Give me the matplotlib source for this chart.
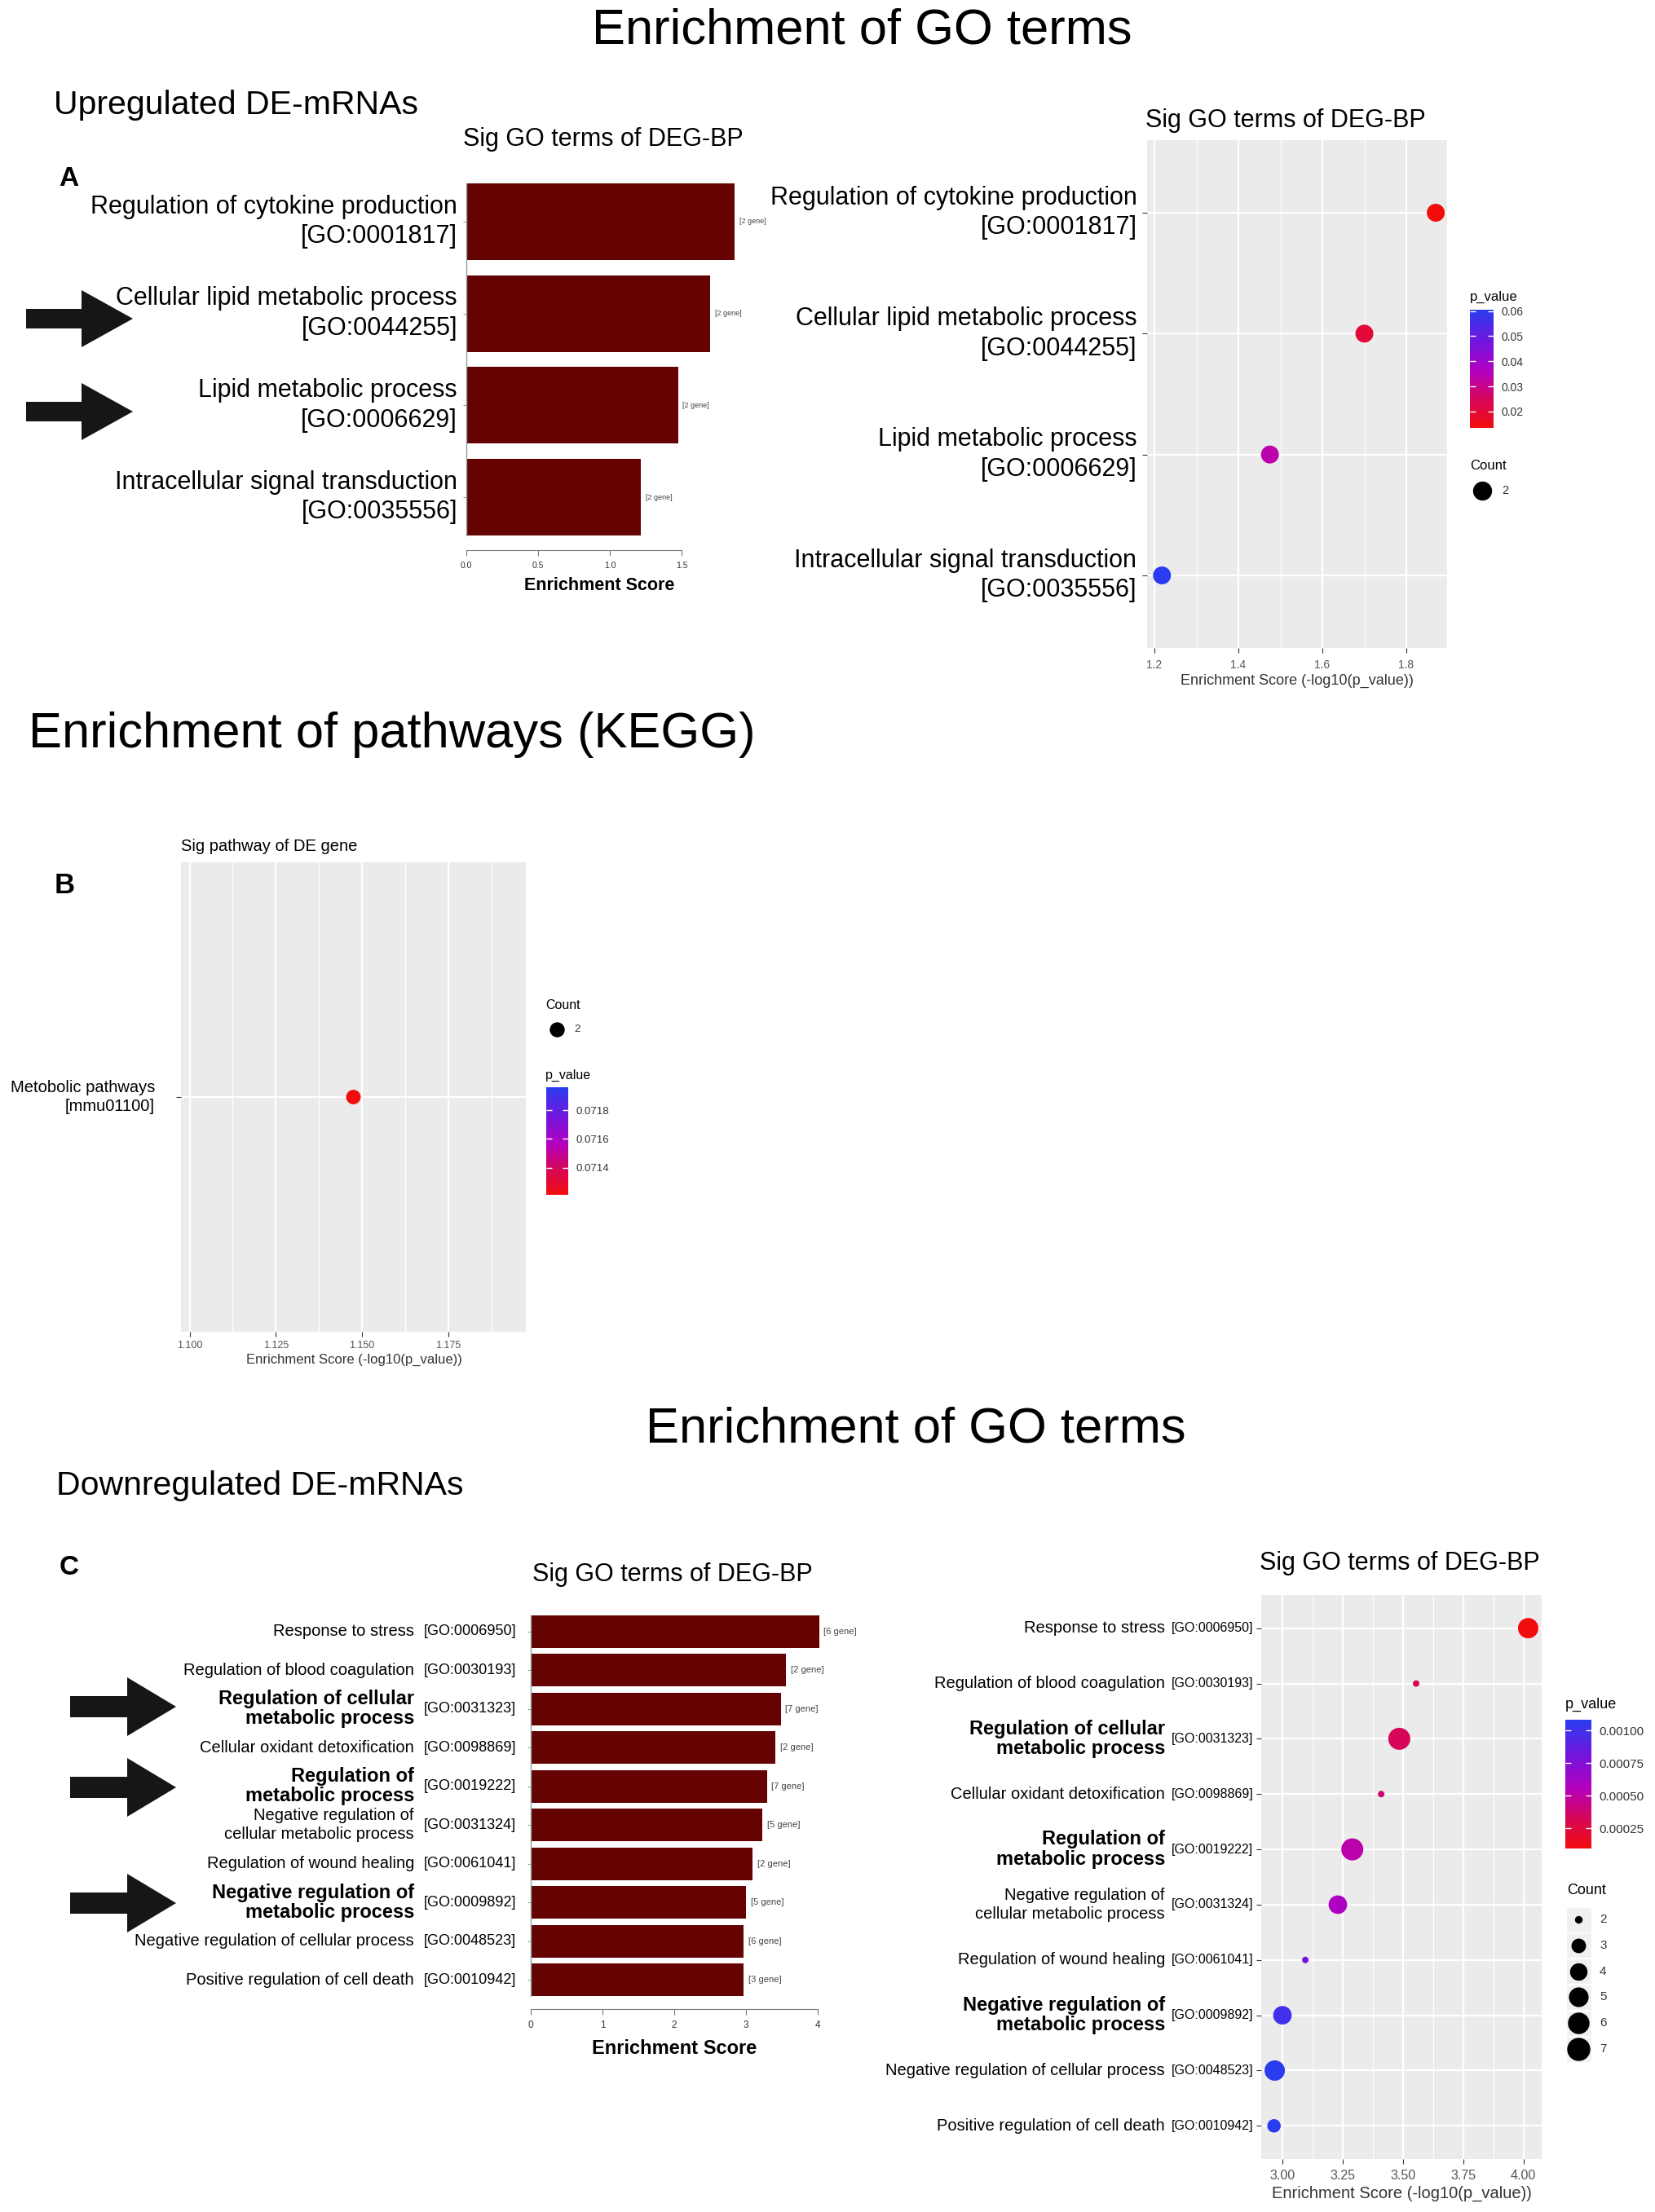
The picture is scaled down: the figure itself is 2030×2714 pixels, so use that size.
import numpy as np
import matplotlib
matplotlib.use('Agg')
import matplotlib.pyplot as plt
from matplotlib.colors import LinearSegmentedColormap, Normalize
from matplotlib.patches import Polygon, Rectangle
import matplotlib.cm as cm

plt.rcParams['font.family'] = ['Liberation Sans', 'DejaVu Sans']

# ---- data ----
up_terms = ['Regulation of cytokine production', 'Cellular lipid metabolic process',
            'Lipid metabolic process', 'Intracellular signal transduction']
up_ids = ['GO:0001817', 'GO:0044255', 'GO:0006629', 'GO:0035556']
up_score = [1.87, 1.70, 1.475, 1.218]
up_count = [2, 2, 2, 2]

kegg_terms = ['Metobolic pathways']
kegg_ids = ['mmu01100']
kegg_score = [1.1475]
kegg_count = [2]

down_terms = ['Response to stress', 'Regulation of blood coagulation',
              'Regulation of cellular\nmetabolic process', 'Cellular oxidant detoxification',
              'Regulation of\nmetabolic process', 'Negative regulation of\ncellular metabolic process',
              'Regulation of wound healing', 'Negative regulation of\nmetabolic process',
              'Negative regulation of cellular process', 'Positive regulation of cell death']
down_ids = ['GO:0006950', 'GO:0030193', 'GO:0031323', 'GO:0098869', 'GO:0019222',
            'GO:0031324', 'GO:0061041', 'GO:0009892', 'GO:0048523', 'GO:0010942']
down_score = [4.02, 3.555, 3.485, 3.41, 3.29, 3.23, 3.095, 3.0, 2.968, 2.965]
down_count = [6, 2, 7, 2, 7, 5, 2, 5, 6, 3]
down_marked = [False, False, True, False, True, False, False, True, False, False]

# ---- figure in pixel layout ----
W, H = 2031, 2714
fig = plt.figure(figsize=(W / 100, H / 100), dpi=100)

def px_rect(x0, y0, x1, y1):
    return [x0 / W, 1 - y1 / H, (x1 - x0) / W, (y1 - y0) / H]

BAR = '#650303'
PANEL = '#EBEBEB'
cmap = LinearSegmentedColormap.from_list(
    'rb', [(0, '#F20D0D'), (0.24, '#D6065A'), (0.47, '#B400BE'),
           (0.72, '#7414DC'), (1, '#2A3CF0')])

def dot_size(c):
    d = 8 + 19 * np.sqrt((np.asarray(c, float) - 2) / 5)
    return (d * 0.72) ** 2

def label_style(marked):
    # highlighted terms are set in a larger bold face
    if marked:
        return dict(fontsize=17, fontweight='bold', linespacing=1.08)
    return dict(fontsize=14.5, fontweight='normal', linespacing=1.27)

def bar_panel(ax, scores, counts, xmax, ticks, ticklabels, tsize, gsize, out):
    y = np.arange(len(scores)) * 1.2
    ax.barh(y, scores, height=1.0, color=BAR, edgecolor='none')
    ax.set_ylim(y[-1] + 0.5, -0.5)
    ax.set_xlim(0, xmax)
    for s in ['top', 'right']:
        ax.spines[s].set_visible(False)
    ax.spines['left'].set_color('#8FA0A0')
    ax.spines['left'].set_linewidth(1.0)
    ax.spines['bottom'].set_position(('outward', out))
    ax.spines['bottom'].set_bounds(ticks[0], ticks[-1])
    ax.spines['bottom'].set_color('#777777')
    ax.set_xticks(ticks)
    ax.set_xticklabels(ticklabels)
    ax.set_yticks(y)
    ax.set_yticklabels([])
    ax.tick_params(axis='x', length=5, color='#777777', labelsize=tsize,
                   labelcolor='#333333', pad=5)
    ax.tick_params(axis='y', length=3, color='#8FA0A0')
    for yi, s, c in zip(y, scores, counts):
        ax.annotate(f'[{c} gene]', xy=(s, yi), xytext=(4, 0), textcoords='offset points',
                    ha='left', va='center', fontsize=gsize, color='#444444')
    return y

def gg_panel(ax, xlim, major, minor, labels, ncat, tsize, pad):
    ax.set_facecolor(PANEL)
    for s in ax.spines.values():
        s.set_visible(False)
    ax.set_xlim(*xlim)
    ax.set_xticks(major)
    ax.set_xticklabels(labels)
    ax.set_xticks(minor, minor=True)
    ax.set_ylim(ncat - 1 + 0.6, -0.6)
    ax.set_yticks(range(ncat))
    ax.set_yticklabels([])
    ax.grid(which='major', color='white', lw=1.6)
    ax.grid(which='minor', axis='x', color='white', lw=0.8)
    ax.set_axisbelow(True)
    ax.tick_params(which='major', length=4, color='#333333', labelsize=tsize,
                   labelcolor='#555555', pad=pad)
    ax.tick_params(which='minor', length=0)

def colorbar(rect, vmin, vmax, ticks, labels, tsize):
    cax = fig.add_axes(px_rect(*rect))
    sm = cm.ScalarMappable(norm=Normalize(vmin, vmax), cmap=cmap)
    cb = fig.colorbar(sm, cax=cax)
    cb.outline.set_visible(False)
    cb.set_ticks(ticks)
    cb.set_ticklabels(labels)
    cax.tick_params(length=5, width=1, color='white', direction='in', left=True,
                    right=True, labelsize=tsize, labelcolor='#333333', pad=7)
    return cax

# ---------------- Panel A : bars ----------------
axa = fig.add_axes(px_rect(572, 225, 924, 657))
ya = bar_panel(axa, up_score, up_count, 2.0, [0, 0.5, 1.0, 1.5],
               ['0.0', '0.5', '1.0', '1.5'], 7.5, 6.5, 13)
for yi, t, g in zip(ya, up_terms, up_ids):
    axa.annotate(f'{t}\n[{g}]', xy=(0, yi), xycoords=('axes fraction', 'data'),
                 xytext=(-8, 0), textcoords='offset points', ha='right', va='center',
                 multialignment='right', fontsize=22, linespacing=1.3)

# ---------------- Panel A : dots ----------------
axd = fig.add_axes(px_rect(1407, 172, 1775, 795))
gg_panel(axd, (1.1825, 1.897), [1.2, 1.4, 1.6, 1.8], [1.3, 1.5, 1.7],
         ['1.2', '1.4', '1.6', '1.8'], len(up_score), 10, 6)
up_p = 10 ** (-np.array(up_score))
norm_a = Normalize(up_p.min(), up_p.max())
axd.scatter(up_score, range(len(up_score)), s=250, c=up_p, cmap=cmap, norm=norm_a,
            edgecolors='none', zorder=3)
for i, (t, g) in enumerate(zip(up_terms, up_ids)):
    axd.annotate(f'{t}\n[{g}]', xy=(0, i), xycoords=('axes fraction', 'data'),
                 xytext=(-9, 0), textcoords='offset points', ha='right', va='center',
                 multialignment='right', fontsize=22, linespacing=1.3)
colorbar((1803, 380, 1832, 525), up_p.min(), up_p.max(),
         [0.02, 0.03, 0.04, 0.05, 0.06], ['0.02', '0.03', '0.04', '0.05', '0.06'], 10)

# ---------------- Panel B : KEGG dot ----------------
axb = fig.add_axes(px_rect(222, 1058, 645, 1634))
gg_panel(axb, (1.0975, 1.1975), [1.100, 1.125, 1.150, 1.175],
         [1.1125, 1.1375, 1.1625, 1.1875], ['1.100', '1.125', '1.150', '1.175'],
         len(kegg_score), 9, 4)
kegg_p = 10 ** (-np.array(kegg_score))
axb.scatter(kegg_score, range(len(kegg_score)), s=165, color=cmap(0.0),
            edgecolors='none', zorder=3)
for i, (t, g) in enumerate(zip(kegg_terms, kegg_ids)):
    axb.annotate(f'{t}\n[{g}]', xy=(0, i), xycoords=('axes fraction', 'data'),
                 xytext=(-23, 0), textcoords='offset points', ha='right', va='center',
                 multialignment='right', fontsize=14.5, linespacing=1.27)
colorbar((670, 1334, 697, 1466), 0.07121, 0.07196, [0.0714, 0.0716, 0.0718],
         ['0.0714', '0.0716', '0.0718'], 9.5)

# ---------------- Panel C : bars ----------------
axc = fig.add_axes(px_rect(651, 1982, 1056, 2449))
yc = bar_panel(axc, down_score, down_count, 4.6, [0, 1, 2, 3, 4],
               ['0', '1', '2', '3', '4'], 8.5, 8, 11.5)
for yi, t, g, m in zip(yc, down_terms, down_ids, down_marked):
    axc.annotate(t, xy=(0, yi), xycoords=('axes fraction', 'data'), xytext=(-103, 0),
                 textcoords='offset points', ha='right', va='center',
                 multialignment='right', **label_style(m))
    axc.annotate(f'[{g}]', xy=(0, yi), xycoords=('axes fraction', 'data'), xytext=(-13, 0),
                 textcoords='offset points', ha='right', va='center', fontsize=13)

# ---------------- Panel C : dots ----------------
axe = fig.add_axes(px_rect(1547, 1957, 1891, 2649))
gg_panel(axe, (2.912, 4.076), [3.0, 3.25, 3.5, 3.75, 4.0], [3.125, 3.375, 3.625, 3.875],
         ['3.00', '3.25', '3.50', '3.75', '4.00'], len(down_score), 11.5, 5)
down_p = 10 ** (-np.array(down_score))
norm_c = Normalize(down_p.min(), down_p.max())
axe.scatter(down_score, range(len(down_score)), s=dot_size(down_count), c=down_p,
            cmap=cmap, norm=norm_c, edgecolors='none', zorder=3)
for i, (t, g, m) in enumerate(zip(down_terms, down_ids, down_marked)):
    axe.annotate(t, xy=(0, i), xycoords=('axes fraction', 'data'), xytext=(-85, 0),
                 textcoords='offset points', ha='right', va='center',
                 multialignment='right', **label_style(m))
    axe.annotate(f'[{g}]', xy=(0, i), xycoords=('axes fraction', 'data'), xytext=(-7, 0),
                 textcoords='offset points', ha='right', va='center', fontsize=11.5)
colorbar((1920, 2110, 1952, 2268), down_p.min(), down_p.max(),
         [0.00025, 0.0005, 0.00075, 0.001], ['0.00025', '0.00050', '0.00075', '0.00100'], 11)

# ---------------- overlay: headings, labels, legends, arrows ----------------
ov = fig.add_axes([0, 0, 1, 1])
ov.set_xlim(0, W)
ov.set_ylim(H, 0)
ov.axis('off')
ov.patch.set_alpha(0)

ov.text(1057, 38, 'Enrichment of GO terms', fontsize=44.3, ha='center', va='center')
ov.text(66, 129, 'Upregulated DE-mRNAs', fontsize=29.5, ha='left', va='center')
ov.text(72, 219, 'A', fontsize=24, fontweight='bold', ha='left', va='center')
ov.text(740, 171, 'Sig GO terms of DEG-BP', fontsize=22, ha='center', va='center')
ov.text(1577, 148, 'Sig GO terms of DEG-BP', fontsize=22, ha='center', va='center')
ov.text(735, 719, 'Enrichment Score', fontsize=15.5, fontweight='bold', ha='center', va='center')
ov.text(1591, 835, 'Enrichment Score (-log10(p_value))', fontsize=13, ha='center',
        va='center', color='#333333')
ov.text(1803, 364, 'p_value', fontsize=12, ha='left', va='center')
ov.text(1803, 571, 'Count', fontsize=12, ha='left', va='center')
ov.scatter([1818], [602], s=250, color='black', zorder=3)
ov.text(1842, 602, str(up_count[0]), fontsize=10.5, ha='left', va='center', color='#333333')

ov.text(35, 901, 'Enrichment of pathways (KEGG)', fontsize=44.3, ha='left', va='center')
ov.text(67, 1086, 'B', fontsize=25, fontweight='bold', ha='left', va='center')
ov.text(222, 1038, 'Sig pathway of DE gene', fontsize=14.5, ha='left', va='center')
ov.text(434, 1668, 'Enrichment Score (-log10(p_value))', fontsize=12, ha='center',
        va='center', color='#333333')
ov.text(669, 1233, 'Count', fontsize=11.5, ha='left', va='center')
ov.scatter([683], [1263], s=150, color='black', zorder=3)
ov.text(704, 1263, str(kegg_count[0]), fontsize=9.5, ha='left', va='center', color='#333333')
ov.text(669, 1319, 'p_value', fontsize=11.5, ha='left', va='center')

ov.text(1123, 1754, 'Enrichment of GO terms', fontsize=44.3, ha='center', va='center')
ov.text(69, 1823, 'Downregulated DE-mRNAs', fontsize=29.5, ha='left', va='center')
ov.text(73, 1924, 'C', fontsize=24, fontweight='bold', ha='left', va='center')
ov.text(825, 1932, 'Sig GO terms of DEG-BP', fontsize=22, ha='center', va='center')
ov.text(1717, 1918, 'Sig GO terms of DEG-BP', fontsize=22, ha='center', va='center')
ov.text(827, 2514, 'Enrichment Score', fontsize=17, fontweight='bold', ha='center', va='center')
ov.text(1719, 2691, 'Enrichment Score (-log10(p_value))', fontsize=14.5, ha='center',
        va='center', color='#333333')
ov.text(1920, 2091, 'p_value', fontsize=13, ha='left', va='center')
ov.text(1922, 2319, 'Count', fontsize=13, ha='left', va='center')
legend_counts = list(range(min(down_count), max(down_count) + 1))
for k, c in enumerate(legend_counts):
    yk = 2355 + 31.8 * k
    ov.add_patch(Rectangle((1921, yk - 15.5), 31, 31, facecolor='#F0F0F0', edgecolor='white'))
    ov.scatter([1936], [yk], s=dot_size(c), color='black', zorder=3)
    ov.text(1962, yk, str(c), fontsize=11, ha='left', va='center', color='#333333')

def arrow(x0, xh, x1, yc, shaft, head):
    pts = [(x0, yc - shaft), (xh, yc - shaft), (xh, yc - head), (x1, yc),
           (xh, yc + head), (xh, yc + shaft), (x0, yc + shaft)]
    ov.add_patch(Polygon(pts, closed=True, facecolor='#161616', edgecolor='none'))

for yc_ in [391, 505]:
    arrow(32, 100, 163, yc_, 12, 35)
for yc_ in [2094, 2193, 2335]:
    arrow(86, 156, 216, yc_, 13, 36)

fig.savefig('out.png', dpi=100)
